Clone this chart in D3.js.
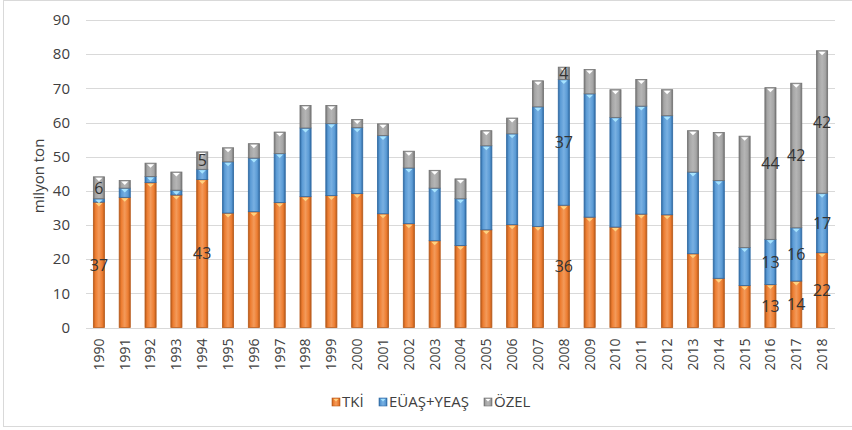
<!DOCTYPE html>
<html lang="tr">
<head>
  <meta charset="UTF-8" />
  <title>Kömür üretimi</title>
  <style>
    html, body {
      margin: 0;
      padding: 0;
      background: #fff;
      font-family: "Open Sans", "Noto Sans", sans-serif;
    }
    svg { display: block; }
  </style>
</head>
<body>
  <svg id="chart" width="852" height="430"></svg>

  <script src="https://d3js.org/d3.v7.min.js"></script>
  <script>
    const years = ["1990","1991","1992","1993","1994","1995","1996","1997","1998","1999",
      "2000","2001","2002","2003","2004","2005","2006","2007","2008","2009",
      "2010","2011","2012","2013","2014","2015","2016","2017","2018"];
    const tki  = [36.7, 38.1, 42.4, 38.8, 43.3, 33.5, 33.9, 36.6, 38.3, 38.6,
      39.2, 33.3, 30.4, 25.4, 24.0, 28.6, 30.1, 29.6, 35.8, 32.3,
      29.4, 33.2, 33.0, 21.6, 14.4, 12.3, 12.6, 13.6, 21.9];
    const euas = [1.0, 2.7, 1.8, 1.4, 3.0, 15.0, 15.7, 14.3, 20.1, 21.1,
      19.3, 22.9, 16.3, 15.4, 13.7, 24.6, 26.6, 35.0, 36.8, 36.1,
      32.1, 31.6, 29.0, 23.9, 28.6, 11.1, 13.2, 15.6, 17.4];
    const ozel = [6.4, 2.2, 3.9, 5.3, 5.1, 4.1, 4.2, 6.3, 6.6, 5.3,
      2.4, 3.4, 4.9, 5.2, 5.8, 4.4, 4.6, 7.6, 3.6, 7.1,
      8.1, 7.8, 7.6, 12.1, 14.1, 32.6, 44.4, 42.3, 41.7];
    const seriesNames = ["TKİ", "EÜAŞ+YEAŞ", "ÖZEL"];
    const yTicks = [0, 10, 20, 30, 40, 50, 60, 70, 80, 90];
    // which segments carry a value label
    const labelled = [
      ["1990", "TKİ"], ["1990", "ÖZEL"],
      ["1994", "TKİ"], ["1994", "ÖZEL"],
      ["2008", "TKİ"], ["2008", "EÜAŞ+YEAŞ"], ["2008", "ÖZEL"],
      ["2016", "TKİ"], ["2016", "EÜAŞ+YEAŞ"], ["2016", "ÖZEL"],
      ["2017", "TKİ"], ["2017", "EÜAŞ+YEAŞ"], ["2017", "ÖZEL"],
      ["2018", "TKİ"], ["2018", "EÜAŞ+YEAŞ"], ["2018", "ÖZEL"]
    ];

    const styles = {
      "TKİ":        { fill: "#ED7D31", edge: "#B85A1A", light: "#F39A5A", tri: "#FFD27F" },
      "EÜAŞ+YEAŞ":  { fill: "#5B9BD5", edge: "#2F6AA3", light: "#78B0E2", tri: "#A6E4FF" },
      "ÖZEL":       { fill: "#A5A5A5", edge: "#727272", light: "#B5B5B5", tri: "#FFFFFF" }
    };

    const rows = years.map((yr, i) => ({
      year: yr, "TKİ": tki[i], "EÜAŞ+YEAŞ": euas[i], "ÖZEL": ozel[i]
    }));
    const stacked = d3.stack().keys(seriesNames)(rows);

    const svg = d3.select("#chart");
    const m = { left: 86, right: 835, top: 20, bottom: 327.5 };

    const x = d3.scaleBand().domain(years).range([m.left, m.right])
      .paddingInner(0.57).paddingOuter(0.285);
    const y = d3.scaleLinear().domain([0, 90]).range([m.bottom, m.top]);

    // outer frame
    svg.append("rect")
      .attr("x", 3.5).attr("y", 0.5)
      .attr("width", 860).attr("height", 426)
      .attr("fill", "none").attr("stroke", "#d9d9d9");

    // gradients
    const defs = svg.append("defs");
    seriesNames.forEach((s, i) => {
      const g = defs.append("linearGradient").attr("id", "g" + i)
        .attr("x1", "0").attr("x2", "1").attr("y1", "0").attr("y2", "0");
      g.append("stop").attr("offset", "0").attr("stop-color", styles[s].edge);
      g.append("stop").attr("offset", "0.2").attr("stop-color", styles[s].fill);
      g.append("stop").attr("offset", "0.5").attr("stop-color", styles[s].light);
      g.append("stop").attr("offset", "0.8").attr("stop-color", styles[s].fill);
      g.append("stop").attr("offset", "1").attr("stop-color", styles[s].edge);
    });

    // grid
    svg.append("g")
      .selectAll("line")
      .data(yTicks)
      .join("line")
      .attr("x1", m.left).attr("x2", m.right)
      .attr("y1", d => Math.round(y(d)) + 0.5).attr("y2", d => Math.round(y(d)) + 0.5)
      .attr("stroke", "#d9d9d9");

    // y axis labels
    const yAxis = svg.append("g")
      .attr("transform", `translate(${m.left},0)`)
      .call(d3.axisLeft(y).tickValues(yTicks).tickSize(0).tickPadding(16));
    yAxis.select(".domain").remove();
    yAxis.selectAll("text")
      .attr("fill", "#404040")
      .style("font-size", "15px")
      .style("font-family", "'Open Sans', sans-serif");

    svg.append("text")
      .attr("transform", "translate(44,176) rotate(-90)")
      .attr("text-anchor", "middle")
      .attr("fill", "#404040")
      .style("font-size", "15px")
      .text("milyon ton");

    // x axis labels
    const xAxis = svg.append("g")
      .attr("transform", `translate(0,${m.bottom})`)
      .call(d3.axisBottom(x).tickSize(0).tickPadding(0));
    xAxis.select(".domain").remove();
    xAxis.selectAll("text")
      .attr("transform", "rotate(-90)")
      .attr("text-anchor", "end")
      .attr("x", -11)
      .attr("y", 0)
      .attr("dy", "0.35em")
      .attr("fill", "#404040")
      .style("font-size", "14px")
      .style("font-family", "'Open Sans', sans-serif");

    // bars
    const bw = x.bandwidth();
    stacked.forEach((layer, i) => {
      const s = seriesNames[i];
      const g = svg.append("g");
      g.selectAll("rect")
        .data(layer)
        .join("rect")
        .attr("x", d => x(d.data.year))
        .attr("y", d => y(d[1]))
        .attr("width", bw)
        .attr("height", d => y(d[0]) - y(d[1]))
        .attr("fill", `url(#g${i})`)
        .attr("stroke", styles[s].edge)
        .attr("stroke-width", 0.8);
      // small bevel triangle at top of each segment
      g.selectAll("path")
        .data(layer.filter(d => y(d[0]) - y(d[1]) > 3))
        .join("path")
        .attr("d", d => {
          const cx = x(d.data.year) + bw / 2, ty = y(d[1]) + 1;
          return `M${cx - 3.5},${ty}L${cx + 3.5},${ty}L${cx},${ty + 3.5}Z`;
        })
        .attr("fill", styles[s].tri);
    });

    // value labels
    const fmt = d3.format(".0f");
    labelled.forEach(([yr, s]) => {
      const layer = stacked[seriesNames.indexOf(s)];
      const d = layer.find(v => v.data.year === yr);
      svg.append("text")
        .attr("x", x(yr) + bw / 2)
        .attr("y", (y(d[0]) + y(d[1])) / 2)
        .attr("dy", "0.36em")
        .attr("text-anchor", "middle")
        .attr("fill", "#333")
        .style("font-size", "16px")
        .text(fmt(d.data[s]));
    });

    // legend
    const legend = svg.append("g").attr("transform", "translate(0,402)");
    const legendX = [332, 379, 484];
    seriesNames.forEach((s, i) => {
      const lg = legend.append("g").attr("transform", `translate(${legendX[i]},0)`);
      lg.append("rect")
        .attr("x", 0).attr("y", -4).attr("width", 8).attr("height", 8)
        .attr("fill", `url(#g${i})`)
        .attr("stroke", styles[s].edge).attr("stroke-width", 0.6);
      lg.append("path")
        .attr("d", "M1.5,-3L6.5,-3L4,-0.5Z")
        .attr("fill", styles[s].tri);
      lg.append("text")
        .attr("x", 10).attr("y", 0).attr("dy", "0.35em")
        .attr("fill", "#404040")
        .style("font-size", "15px")
        .text(s);
    });
  </script>
</body>
</html>
